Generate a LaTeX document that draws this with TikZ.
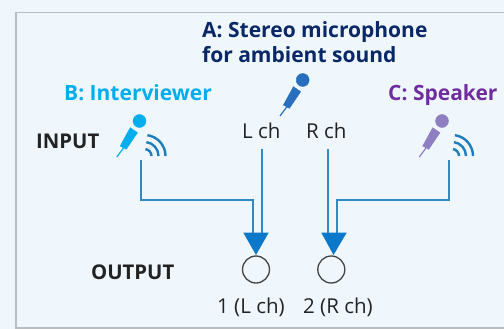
\documentclass[tikz,border=0pt]{standalone}
\usepackage{fontspec}
\setmainfont{Open Sans}
\definecolor{bgc}{HTML}{F0F7FC}
\definecolor{framec}{HTML}{B9BDC0}
\definecolor{linec}{HTML}{2F8BC6}
\definecolor{tipc}{HTML}{0B78C9}
\definecolor{wavec}{HTML}{1F7DBD}
\definecolor{ac}{HTML}{0A2868}
\definecolor{bc}{HTML}{00AEEF}
\definecolor{cc}{HTML}{6F2DA0}
\definecolor{micac}{HTML}{2A6FBF}
\definecolor{miccc}{HTML}{8E7FC2}
\definecolor{txt}{HTML}{222222}
\tikzset{
  head/.style={font=\fontsize{21}{24}\selectfont\bfseries,anchor=base west,inner sep=0pt,align=left},
  lab/.style={font=\fontsize{20.5}{24}\selectfont,anchor=base west,inner sep=0pt,text=txt},
  sig/.style={draw=linec,line width=1.7pt,line join=miter},
  tri/.style={fill=tipc,draw=none},
  jack/.style={circle,draw=txt!85,line width=1.3pt,fill=none,minimum size=27pt,inner sep=0pt},
  mic/.pic={
    \fill[pic actions] (0,0) circle (6.5);
    \fill[pic actions] (-9.3,6.7) -- (-2,11.7) -- (-13.3,28.3) -- (-19.3,25) -- cycle;
    \draw[pic actions,line width=1.2pt] (-16,27) -- (-22.7,36);
  },
  waves/.pic={
    \foreach \r in {7,14,21}
      \draw[wavec,line width=2.4pt] (\r,0) arc[start angle=0,end angle=-82,radius=\r];
  }
}
\begin{document}
\begin{tikzpicture}[x=1pt,y=-1pt]
\useasboundingbox (0,0) rectangle (504,329);
\fill[bgc] (0,0) rectangle (504,329);
\draw[framec,line width=1.2pt] (504,12.5) -- (16,12.5) -- (16,328) -- (504,328);

\node[head,text=ac] (atitle) at (202,38) {A: Stereo microphone};
\node[head,text=ac] (atitleb) at (202,63) {for ambient sound};
\node[head,text=bc] (btitle) at (64,100) {B: Interviewer};
\node[head,text=cc] (ctitle) at (388,100) {C: Speaker};
\node[head,text=txt,font=\fontsize{20.3}{24}\selectfont\bfseries] (input) at (36,148) {INPUT};
\node[head,text=txt,font=\fontsize{20.3}{24}\selectfont\bfseries] (output) at (91,279) {OUTPUT};
\node[lab] (lch) at (242,139) {L ch};
\node[lab] (rch) at (306,139) {R ch};
\node[lab] (o1) at (217,313) {1 (L ch)};
\node[lab] (o2) at (303,313) {2 (R ch)};

\pic[fill=micac,draw=micac] at (302.7,80) {mic};
\pic[fill=bc,draw=bc] at (139.5,121) {mic};
\pic[fill=miccc,draw=miccc] at (442,121) {mic};
\pic at (144.5,156) {waves};
\pic at (452,156) {waves};

\node[jack] (j1) at (256,269.5) {};
\node[jack] (j2) at (331.3,269.5) {};

\coordinate (bs) at (141,160);
\coordinate (cs) at (449,160);
\coordinate (ls) at (262,149);
\coordinate (rs) at (328,149);
\coordinate (t1) at (252.7,234);
\coordinate (t1b) at (262,234);
\coordinate (t2) at (328,234);
\coordinate (t2b) at (337,234);

\draw[sig] (bs) |- (252.7,200) -- (t1);
\draw[sig] (ls) -- (t1b);
\draw[sig] (rs) -- (t2);
\draw[sig] (cs) |- (337,200) -- (t2b);

\fill[tri] (243.3,232.7) -- (268.7,232.7) -- (256,255) -- cycle;
\fill[tri] (321.3,232.7) -- (346.7,232.7) -- (333.5,255) -- cycle;
\end{tikzpicture}
\end{document}
